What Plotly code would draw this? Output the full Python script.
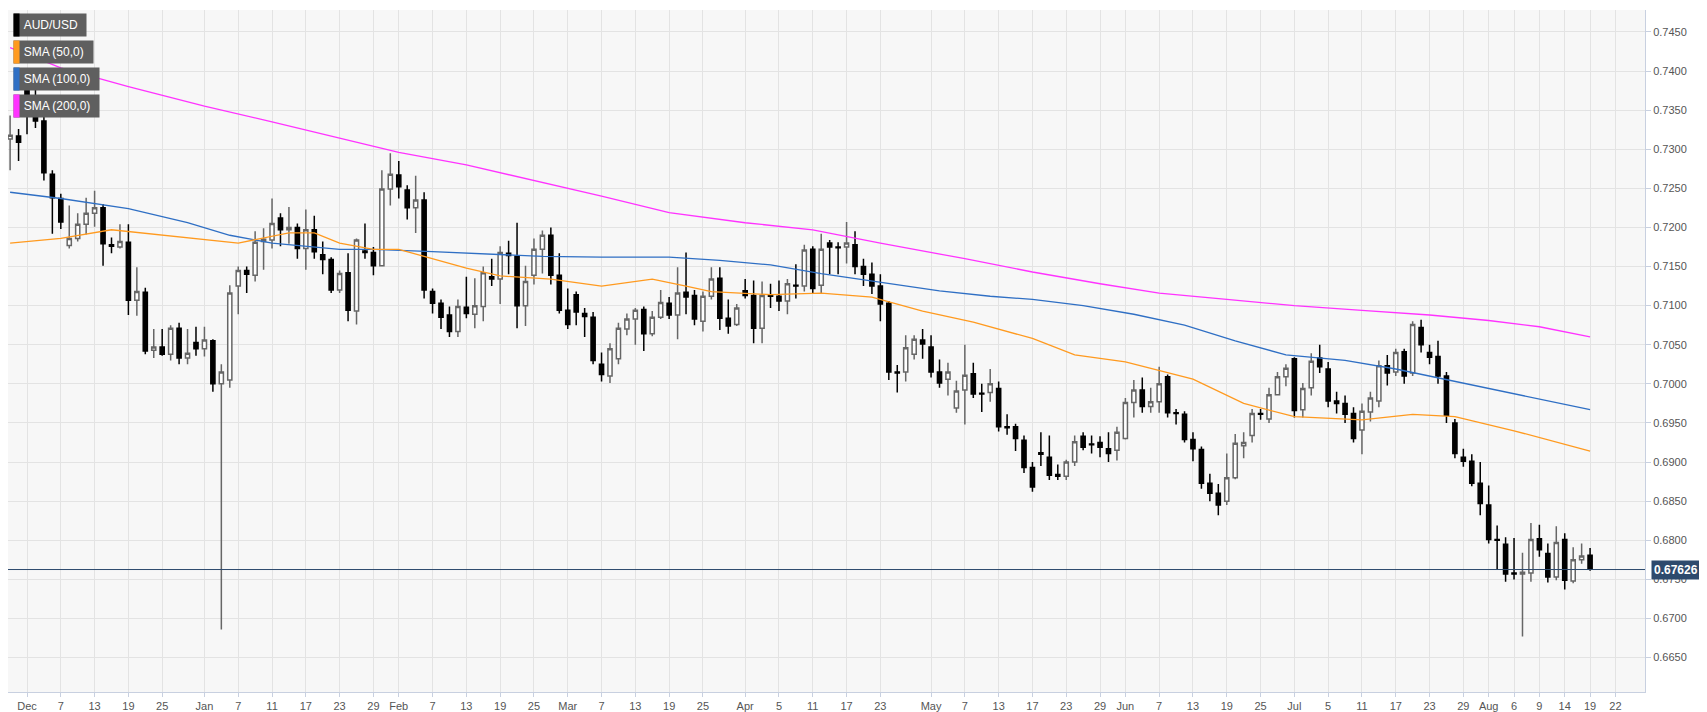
import pandas as pd
import plotly.graph_objects as go

dates = pd.bdate_range("2018-11-29", "2019-08-19")

opens = [
 .7313,.7317,
 .7379,.7351,.7336,.7268,.7237, .7177,.7186,.7204,.7218,.7225, .7178,.7175,.7181,.7107,.7117,
 .7043,.7047,.7038,.7071,.7033, .7053,.7045,.7055,.7000,.7005, .7125,.7145,.7139,.7182,.7184,
 .7212,.7197,.7200,.7173,.7197, .7165,.7159,.7120,.7142,.7093, .7170,.7168,.7151,.7249,.7267,
 .7248,.7225,.7235,.7118,.7103, .7088,.7067,.7098,.7089,.7099, .7137,.7134,.7167,.7163,.7100,
 .7139,.7172,.7190,.7139,.7094, .7114,.7090,.7085,.7025,.7010, .7032,.7070,.7083,.7095,.7064,
 .7085,.7103,.7088,.7117,.7113, .7080,.7112,.7135,.7084,.7076, .7119,.7113,.7071,.7114,.7112,
 .7106,.7126,.7125,.7172,.7126, .7180,.7175,.7175,.7178,.7150, .7140,.7125,.7103,.7015,.7015,
 .7038,.7056,.7047,.7015,.7006, .6969,.6992,.7013,.6988,.6989, .6994,.6945,.6945,.6928,.6893,
 .6912,.6906,.6884,.6882,.6900, .6933,.6923,.6925,.6917,.6915, .6930,.6976,.6992,.6971,.6977,
 .7009,.6963,.6961,.6929,.6916, .6873,.6860,.6850,.6880,.6921, .6934,.6962,.6955,.6986,.7009,
 .7032,.6967,.6995,.7033,.7019, .6978,.6975,.6962,.6941,.6964, .6978,.7023,.7015,.7041,.7014,
 .7072,.7040,.7035,.7010,.6950, .6906,.6901,.6873,.6845,.6801, .6795,.6758,.6757,.6758,.6802,
 .6783,.6753,.6801,.6748,.6775, .6781]
highs = [
 .7343,.7326,
 .7392,.7394,.7351,.7273,.7243, .7228,.7218,.7238,.7247,.7230, .7187,.7204,.7204,.7149,.7123,
 .7070,.7070,.7075,.7078,.7070, .7073,.7073,.7057,.7025,.7126, .7150,.7150,.7195,.7199,.7237,
 .7218,.7226,.7205,.7223,.7215, .7182,.7162,.7145,.7167,.7186, .7205,.7175,.7273,.7295,.7285,
 .7254,.7266,.7245,.7122,.7108, .7099,.7108,.7137,.7135,.7150, .7160,.7176,.7183,.7206,.7151,
 .7186,.7196,.7200,.7167,.7122, .7118,.7097,.7092,.7040,.7052, .7078,.7090,.7097,.7099,.7093,
 .7120,.7111,.7149,.7168,.7120, .7118,.7149,.7149,.7108,.7102, .7134,.7132,.7131,.7128,.7132,
 .7134,.7153,.7178,.7176,.7192, .7184,.7181,.7207,.7195,.7160, .7155,.7140,.7106,.7024,.7062,
 .7062,.7070,.7062,.7031,.7027, .7004,.7050,.7027,.7000,.7019, .7003,.6961,.6949,.6934,.6900,
 .6938,.6934,.6897,.6903,.6934, .6938,.6934,.6933,.6938,.6945, .6982,.7005,.7008,.6995,.7022,
 .7012,.6968,.6965,.6938,.6920, .6885,.6872,.6911,.6936,.6938, .6968,.6968,.6995,.7015,.7025,
 .7034,.7001,.7039,.7050,.7028, .6990,.6985,.6970,.6975,.6990, .7030,.7037,.7045,.7045,.7080,
 .7082,.7050,.7055,.7015,.6955, .6917,.6910,.6900,.6870,.6819, .6804,.6803,.6784,.6822,.6820,
 .6796,.6818,.6809,.6791,.6796, .6790]
lows = [
 .7273,.7285,
 .7319,.7327,.7260,.7192,.7198, .7173,.7182,.7191,.7201,.7151, .7167,.7173,.7088,.7087,.7038,
 .7033,.7036,.7030,.7025,.7025, .7036,.7035,.6990,.6686,.6995, .7089,.7116,.7131,.7146,.7173,
 .7176,.7179,.7160,.7146,.7160, .7140,.7116,.7116,.7080,.7076, .7160,.7139,.7150,.7228,.7237,
 .7210,.7193,.7109,.7090,.7070, .7060,.7060,.7084,.7071,.7080, .7125,.7102,.7140,.7071,.7074,
 .7127,.7141,.7127,.7090,.7070, .7075,.7060,.7025,.7003,.7001, .7025,.7062,.7050,.7042,.7061,
 .7083,.7083,.7057,.7089,.7075, .7067,.7108,.7069,.7064,.7074, .7109,.7052,.7052,.7097,.7093,
 .7089,.7109,.7118,.7116,.7116, .7140,.7140,.7154,.7140,.7125, .7115,.7080,.7005,.6989,.7003,
 .7031,.7032,.7008,.6995,.6985, .6963,.6948,.6982,.6964,.6977, .6939,.6935,.6914,.6886,.6862,
 .6895,.6877,.6877,.6877,.6895, .6915,.6911,.6906,.6900,.6902, .6929,.6957,.6963,.6963,.6963,
 .6957,.6948,.6925,.6901,.6866, .6850,.6832,.6845,.6878,.6905, .6925,.6954,.6950,.6985,.6997,
 .6957,.6957,.6985,.7014,.6970, .6962,.6950,.6925,.6910,.6952, .6970,.6998,.7010,.7000,.7010,
 .7040,.7025,.7000,.6950,.6905, .6894,.6869,.6832,.6796,.6763, .6747,.6750,.6677,.6747,.6779,
 .6746,.6749,.6737,.6745,.6770, .6761]
closes = [
 .7318,.7309,
 .7354,.7336,.7270,.7238,.7207, .7186,.7204,.7218,.7225,.7179, .7176,.7182,.7107,.7118,.7042,
 .7047,.7038,.7071,.7033,.7039, .7045,.7056,.7000,.7015,.7116, .7145,.7140,.7181,.7185,.7205,
 .7197,.7200,.7173,.7197,.7169, .7159,.7120,.7141,.7094,.7184, .7168,.7151,.7249,.7268,.7252,
 .7225,.7235,.7120,.7103,.7085, .7067,.7099,.7090,.7100,.7142, .7134,.7168,.7164,.7100,.7131,
 .7172,.7190,.7139,.7094,.7076, .7092,.7086,.7030,.7012,.7045, .7071,.7083,.7094,.7064,.7085,
 .7104,.7088,.7116,.7111,.7083, .7112,.7134,.7084,.7074,.7097, .7113,.7071,.7113,.7112,.7106,
 .7128,.7125,.7171,.7122,.7172, .7175,.7174,.7180,.7150,.7140, .7125,.7102,.7015,.7014,.7046,
 .7057,.7051,.7015,.7001,.7015, .6991,.7011,.6987,.6987,.7000, .6945,.6944,.6930,.6893,.6868,
 .6910,.6883,.6882,.6900,.6926, .6919,.6922,.6919,.6911,.6938, .6976,.6992,.6971,.6977,.7000,
 .6963,.6962,.6929,.6917,.6873, .6860,.6845,.6880,.6924,.6925, .6962,.6961,.6986,.7009,.7020,
 .6966,.6994,.7029,.7022,.6978, .6975,.6961,.6930,.6965,.6982, .7023,.7014,.7040,.7010,.7076,
 .7050,.7034,.7010,.6960,.6911, .6901,.6873,.6847,.6801,.6800, .6757,.6757,.6759,.6801,.6788,
 .6753,.6797,.6749,.6775,.6780, .6763]
assert len(opens) == len(highs) == len(lows) == len(closes) == len(dates)

sma50_dates = ["2018-11-29","2018-12-07","2018-12-17","2018-12-25","2019-01-02","2019-01-07","2019-01-15","2019-01-18",
 "2019-01-23","2019-01-29","2019-02-01","2019-02-05","2019-02-13","2019-02-19","2019-02-27","2019-03-07","2019-03-15",
 "2019-03-21","2019-03-26","2019-04-04","2019-04-12","2019-04-22","2019-04-30","2019-05-08","2019-05-17","2019-05-24",
 "2019-06-03","2019-06-13","2019-06-21","2019-07-01","2019-07-11","2019-07-19","2019-07-26","2019-08-06","2019-08-19"]
sma50 = [.7180,.7186,.7197,.7190,.7183,.7180,.7193,.7193,.7180,.7172,.7172,.7166,.7148,.7138,.7134,.7125,.7134,
 .7125,.7118,.7114,.7116,.7111,.7093,.7079,.7058,.7037,.7028,.7006,.6975,.6958,.6954,.6961,.6958,.6940,.6914]
sma100_dates = ["2018-11-29","2018-12-07","2018-12-19","2018-12-28","2019-01-04","2019-01-11","2019-01-23","2019-01-29",
 "2019-02-07","2019-02-15","2019-02-26","2019-03-07","2019-03-19","2019-03-27","2019-04-04","2019-04-12","2019-04-23",
 "2019-05-02","2019-05-10","2019-05-17","2019-05-27","2019-06-04","2019-06-12","2019-06-20","2019-06-28","2019-07-09",
 "2019-07-17","2019-07-26","2019-08-05","2019-08-19"]
sma100 = [.7245,.7237,.7224,.7206,.7190,.7180,.7172,.7172,.7169,.7166,.7163,.7162,.7162,.7158,.7152,.7141,.7130,
 .7119,.7112,.7108,.7100,.7089,.7075,.7055,.7037,.7030,.7019,.7003,.6989,.6967]
sma200_dates = ["2018-11-29","2018-12-07","2018-12-19","2019-01-01","2019-01-11","2019-01-23","2019-02-01","2019-02-13",
 "2019-02-25","2019-03-07","2019-03-19","2019-04-01","2019-04-11","2019-04-23","2019-05-07","2019-05-17","2019-05-29",
 "2019-06-07","2019-06-19","2019-07-01","2019-07-11","2019-07-23","2019-08-01","2019-08-09","2019-08-19"]
sma200 = [.7430,.7404,.7380,.7355,.7335,.7314,.7296,.7280,.7260,.7240,.7219,.7206,.7197,.7180,.7160,.7143,.7128,
 .7116,.7108,.7100,.7094,.7088,.7081,.7073,.7060]

last_price = 0.67626

tick_dates = ["2018-12-03","2018-12-07","2018-12-13","2018-12-19","2018-12-25","2019-01-01","2019-01-07","2019-01-11",
 "2019-01-17","2019-01-23","2019-01-29","2019-02-01","2019-02-07","2019-02-13","2019-02-19","2019-02-25","2019-03-01",
 "2019-03-07","2019-03-13","2019-03-19","2019-03-25","2019-04-01","2019-04-05","2019-04-11","2019-04-17","2019-04-23",
 "2019-05-01","2019-05-07","2019-05-13","2019-05-17","2019-05-23","2019-05-29","2019-06-03","2019-06-07","2019-06-13",
 "2019-06-19","2019-06-25","2019-07-01","2019-07-05","2019-07-11","2019-07-17","2019-07-23","2019-07-29","2019-08-01",
 "2019-08-06","2019-08-09","2019-08-14","2019-08-19","2019-08-22"]
tick_text = ["Dec","7","13","19","25","Jan","7","11","17","23","29","Feb","7","13","19","25","Mar","7","13","19","25",
 "Apr","5","11","17","23","May","7","13","17","23","29","Jun","7","13","19","25","Jul","5","11","17","23","29","Aug",
 "6","9","14","19","22"]

fig = go.Figure()
fig.add_trace(go.Scatter(x=sma200_dates, y=sma200, mode="lines", line=dict(color="#ff33ff", width=1.3), hoverinfo="skip"))
fig.add_trace(go.Scatter(x=sma100_dates, y=sma100, mode="lines", line=dict(color="#2f6fc4", width=1.3), hoverinfo="skip"))
fig.add_trace(go.Scatter(x=sma50_dates, y=sma50, mode="lines", line=dict(color="#ff9a1f", width=1.3), hoverinfo="skip"))
fig.add_trace(go.Candlestick(
    x=dates, open=opens, high=highs, low=lows, close=closes, whiskerwidth=0,
    increasing=dict(line=dict(color="#666666", width=1.5), fillcolor="#ffffff"),
    decreasing=dict(line=dict(color="#000000", width=1.5), fillcolor="#000000"),
))

fig.add_shape(type="line", xref="paper", x0=0, x1=1, yref="y", y0=last_price, y1=last_price,
              line=dict(color="#2d4a6d", width=1))
fig.add_annotation(xref="paper", x=1, yref="y", y=last_price, xanchor="left", xshift=6,
                   text="<b>0.67626</b>", showarrow=False, bgcolor="#2d4a6d",
                   font=dict(color="white", size=12, family="Liberation Sans, Arial"), borderpad=2)

legend_items = [("AUD/USD", "#000000", 78), ("SMA (50,0)", "#ff9a1f", 85), ("SMA (100,0)", "#2f6fc4", 91), ("SMA (200,0)", "#ff33ff", 91)]
for i, (txt, col, w) in enumerate(legend_items):
    y0 = 5 + i * 27
    fig.add_annotation(xref="paper", yref="paper", x=0, y=1, xanchor="left", yanchor="top",
                       xshift=5, yshift=-y0 + 2, width=w - 12, height=16, align="left",
                       text="&nbsp;&nbsp;" + txt, showarrow=False, bgcolor="#5f5f5f",
                       font=dict(color="white", size=12, family="Liberation Sans, Arial"), borderpad=3)
    fig.add_annotation(xref="paper", yref="paper", x=0, y=1, xanchor="left", yanchor="top",
                       xshift=5, yshift=-y0 + 2, width=1, height=18, text="", showarrow=False,
                       bgcolor=col, borderpad=2)

fig.update_layout(
    width=1707, height=712, margin=dict(l=0, r=70, t=2, b=28),
    paper_bgcolor="#ffffff", plot_bgcolor="#f7f7f7", showlegend=False,
    font=dict(family="Liberation Sans, Arial", size=11, color="#555555"),
    xaxis=dict(type="date", rangebreaks=[dict(bounds=["sat", "mon"])],
               range=["2018-11-28 18:00", "2019-08-27 12:00"], rangeslider=dict(visible=False),
               tickvals=tick_dates, ticktext=tick_text, showgrid=True, gridcolor="#e3e3e3",
               ticks="outside", ticklen=4, tickcolor="#c8d0e0", zeroline=False,
               showline=True, linecolor="#c8d0e0"),
    yaxis=dict(side="right", range=[0.6606, 0.7478], tickvals=[0.6650 + 0.005 * k for k in range(17)],
               tickformat=".4f", showgrid=True, gridcolor="#e3e3e3", ticks="outside", ticklen=5,
               tickcolor="#c8d0e0", showline=True, linecolor="#c8d0e0", zeroline=False),
)
fig.write_html("out.html")
